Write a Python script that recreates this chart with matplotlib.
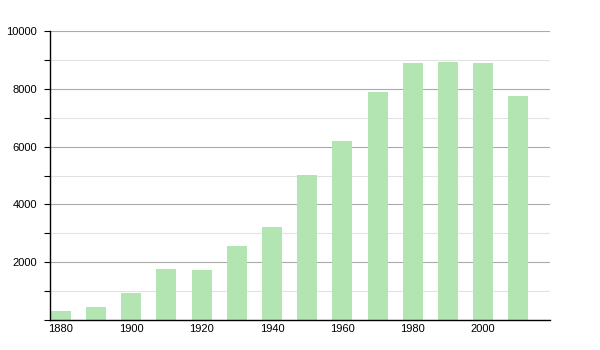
import matplotlib.pyplot as plt
from matplotlib.ticker import MultipleLocator

plt.rcParams['font.family'] = ['Liberation Sans', 'DejaVu Sans']

years = [1880, 1890, 1900, 1910, 1920, 1930, 1940, 1950, 1960, 1970, 1980, 1990, 2000, 2010]
population = [310, 450, 945, 1765, 1730, 2560, 3220, 5020, 6190, 7890, 8900, 8935, 8900, 7760]

fig = plt.figure(figsize=(6, 3.5), dpi=100)
ax = fig.add_axes([50 / 600, 30 / 350, 500 / 600, 289 / 350])

ax.bar(years, population, width=5.7, color='#b3e5b3', zorder=2)

ax.set_xlim(1876.9, 2019)
ax.set_ylim(0, 10000)
ax.set_xticks([1880, 1900, 1920, 1940, 1960, 1980, 2000])
ax.set_yticks([2000, 4000, 6000, 8000, 10000])
ax.yaxis.set_minor_locator(MultipleLocator(1000))

ax.grid(axis='y', which='major', color='#aaaaaa', linewidth=0.8, zorder=0)
ax.grid(axis='y', which='minor', color='#e2e2e2', linewidth=0.8, zorder=0)
ax.set_axisbelow(True)

for side in ['top', 'right']:
    ax.spines[side].set_visible(False)
ax.spines['left'].set_linewidth(1)
ax.spines['bottom'].set_linewidth(1)

ax.tick_params(axis='y', which='major', length=4.5, width=0.8, pad=5, labelsize=8)
ax.tick_params(axis='y', which='minor', length=4.5, width=0.8)
ax.tick_params(axis='x', length=0, pad=3, labelsize=8)

fig.savefig('out.png', dpi=100)
